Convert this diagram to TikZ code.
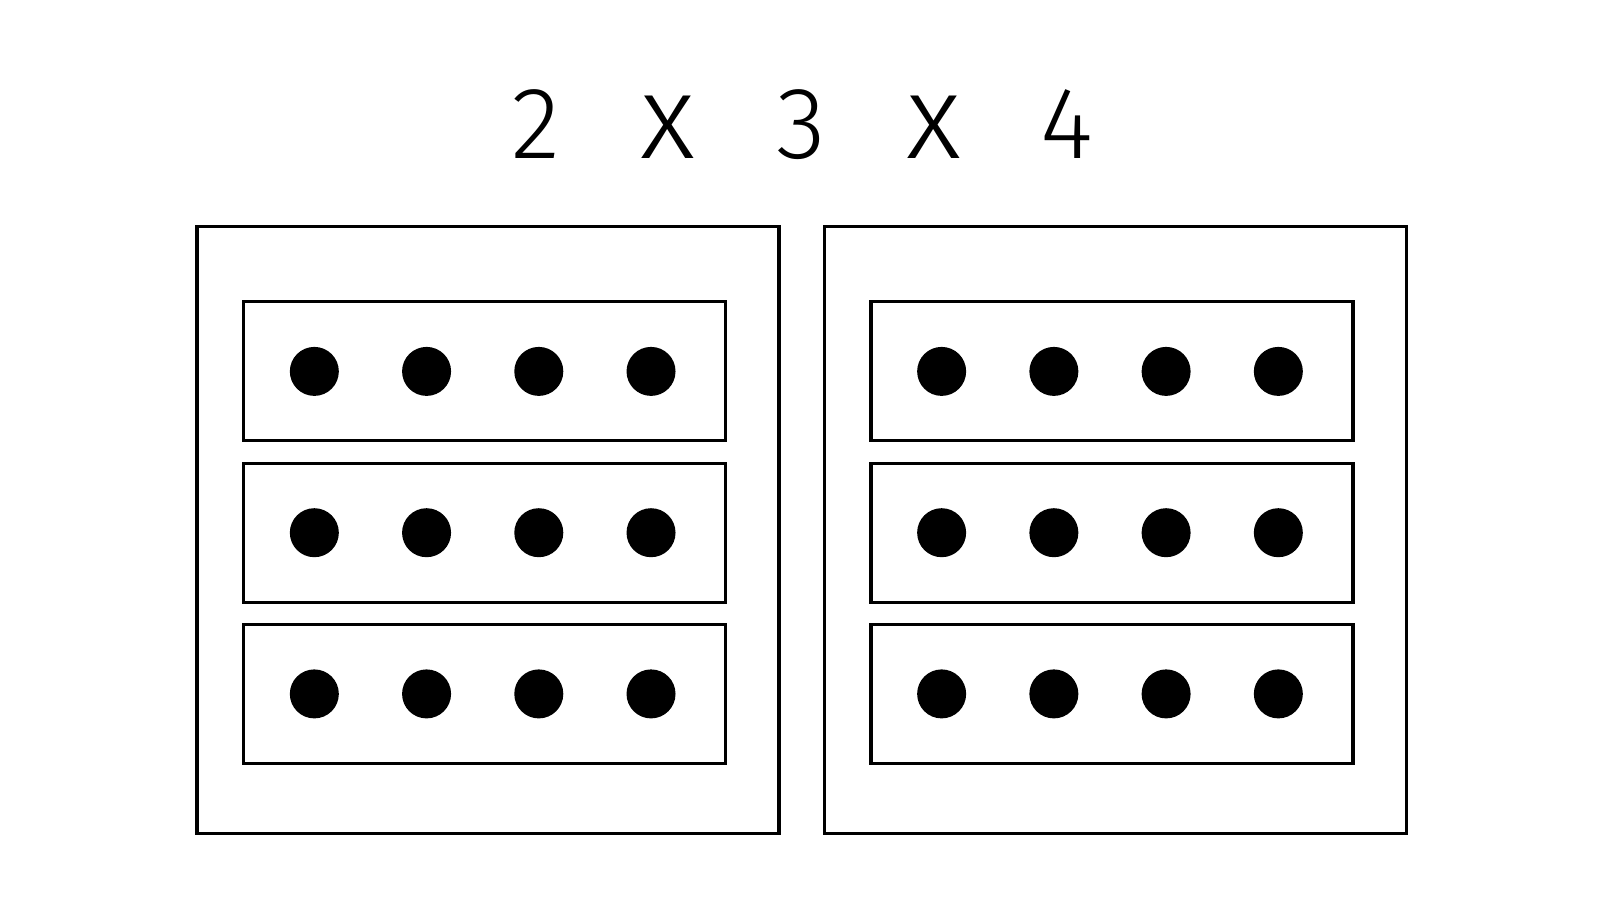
\documentclass[tikz,border=0pt]{standalone}
\usepackage{fontspec}
\setmainfont{Fira Sans Light}
\usetikzlibrary{positioning}
\tikzset{
  tray/.style={draw, line width=0.9pt, minimum width=5.82cm, minimum height=6.07cm, inner sep=0pt},
  rowbox/.style={draw, line width=0.9pt, minimum width=4.82cm, minimum height=1.39cm, inner sep=0pt},
  dot/.style={circle, fill, minimum size=0.49cm, inner sep=0pt},
  factors/.style={anchor=base, inner sep=0pt, font=\fontsize{29}{35}\selectfont}
}
\newcommand{\slot}[1]{\makebox[1.327cm]{#1}}
\newcommand{\bigx}{{\fontsize{34}{40}\selectfont x}}

\begin{document}
\begin{tikzpicture}
  \useasboundingbox (0,0) rectangle (16,9);
  \node[factors] (title) at (8.01,7.41) {\slot{2}\slot{\bigx}\slot{3}\slot{\bigx}\slot{4}};
  \node[tray] (trayL) at (4.88,3.70) {};
  \node[tray] (trayR) at (11.153,3.70) {};
  \foreach \t/\cx in {L/4.847, R/11.12} {
    \foreach \r/\cy in {1/5.286, 2/3.673, 3/2.061} {
      \node[rowbox] (row\t\r) at (\cx,\cy) {};
      \foreach \d in {1,...,4}
        \node[dot] (dot\t\r\d) at (\cx+\d*1.1223-2.826,\cy) {};
    }
  }
\end{tikzpicture}
\end{document}
